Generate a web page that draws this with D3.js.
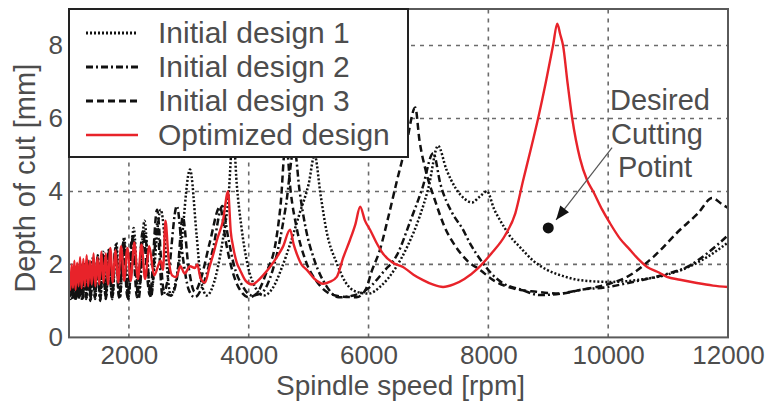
<!DOCTYPE html>
<html>
<head>
<meta charset="utf-8">
<script src="https://cdn.jsdelivr.net/npm/d3@7"></script>
<style>
    body { margin: 0; background: #fff; }
    text { font-family: "Liberation Sans", Arial, sans-serif; }
</style>
</head>
<body>
<div id="chart"></div>
<script>
// values: [spindle speed (rpm), depth of cut (mm)]
const design1 = [
    [1000,1.5],[1020,1.05],[1045,1.8],[1070,1.1],[1095,1.85],[1120,1.05],[1150,1.9],[1175,1.1],
    [1205,2.0],[1235,1.05],[1265,2.05],[1295,1.1],[1330,2.1],[1365,1.05],[1400,2.2],[1440,1.1],
    [1480,2.25],[1525,1.05],[1570,2.35],[1620,1.1],[1670,2.45],[1725,1.1],[1790,2.6],[1850,1.1],
    [1920,2.75],[1990,1.1],[2080,3.0],[2160,1.15],[2260,3.2],[2360,1.15],[2530,3.5],[2700,1.15],
    [2850,2.2],[3020,4.6],[3130,2.8],[3200,1.6],[3300,1.15],[3420,1.5],[3560,2.6],[3660,3.8],
    [3740,5.6],[3800,4.2],[3880,3.0],[3980,2.0],[4100,1.4],[4250,1.15],[4400,1.35],[4550,1.9],
    [4700,2.6],[4850,3.4],[5000,4.2],[5100,5.0],[5200,3.9],[5300,2.9],[5470,2.03],[5620,1.5],
    [5800,1.25],[6000,1.2],[6200,1.4],[6450,1.9],[6650,2.5],[6850,3.3],[7000,4.1],[7160,5.25],
    [7300,4.6],[7450,4.1],[7600,3.8],[7730,3.7],[7850,3.85],[7976,4.0],[8100,3.5],[8200,3.2],
    [8350,2.8],[8530,2.47],[8750,2.1],[8980,1.85],[9250,1.68],[9530,1.57],[10030,1.52],
    [10480,1.57],[10980,1.72],[11300,1.9],[11650,2.2],[12000,2.6]
];
const design2 = [
    [1000,1.3],[1030,1.75],[1055,1.05],[1080,1.8],[1105,1.0],[1135,1.85],[1160,1.05],[1190,1.9],
    [1220,1.0],[1250,1.95],[1285,1.05],[1320,2.0],[1355,1.0],[1395,2.1],[1435,1.05],[1475,2.2],
    [1520,1.0],[1565,2.25],[1615,1.05],[1665,2.35],[1720,1.05],[1780,2.5],[1845,1.05],[1915,2.65],
    [1990,1.05],[2070,2.8],[2160,1.05],[2260,2.9],[2370,1.1],[2470,3.1],[2560,1.15],[2650,1.6],
    [2800,3.6],[2900,2.2],[3000,1.3],[3100,1.1],[3250,1.5],[3400,2.4],[3560,3.6],[3650,2.8],
    [3750,2.0],[3900,1.4],[4050,1.15],[4200,1.2],[4350,1.6],[4500,2.5],[4620,3.6],[4760,5.2],
    [4850,4.0],[4950,3.0],[5100,2.1],[5300,1.4],[5500,1.1],[5750,1.15],[6000,1.35],[6250,1.8],
    [6475,2.26],[6700,3.2],[6900,4.1],[7080,5.05],[7200,4.2],[7400,3.4],[7560,3.0],[7720,2.5],
    [7895,2.07],[8050,1.75],[8230,1.5],[8560,1.3],[8860,1.16],[9200,1.2],[9530,1.3],[9980,1.38],
    [10500,1.55],[11000,1.75],[11320,1.93],[11650,2.3],[12000,2.8]
];
const design3 = [
    [1000,1.6],[1015,1.15],[1040,1.7],[1065,1.1],[1090,1.75],[1115,1.15],[1145,1.8],[1170,1.1],
    [1200,1.85],[1230,1.1],[1260,1.9],[1290,1.1],[1325,1.95],[1360,1.1],[1395,2.05],[1435,1.1],
    [1475,2.15],[1520,1.1],[1565,2.2],[1610,1.1],[1660,2.3],[1715,1.1],[1775,2.45],[1835,1.1],
    [1905,2.6],[1975,1.1],[2055,2.75],[2135,1.1],[2230,2.9],[2350,1.15],[2470,3.5],[2580,1.3],
    [2700,1.15],[2800,1.6],[2900,3.3],[2990,2.0],[3100,1.25],[3200,1.6],[3350,2.6],[3520,3.58],
    [3620,2.6],[3750,1.7],[3900,1.2],[4000,1.1],[4130,1.2],[4300,1.8],[4450,2.6],[4530,3.6],
    [4620,5.4],[4700,4.0],[4800,3.0],[4950,2.1],[5150,1.5],[5350,1.2],[5550,1.12],[5800,1.1],
    [5950,1.3],[6050,1.8],[6190,2.4],[6330,3.3],[6475,4.3],[6630,5.3],[6780,6.3],[6850,5.4],
    [6950,4.6],[7100,3.8],[7277,3.0],[7450,2.5],[7650,2.1],[7860,1.85],[8100,1.55],[8400,1.35],
    [8800,1.25],[9200,1.2],[9530,1.3],[9980,1.45],[10315,1.66],[10750,2.2],[11200,2.95],
    [11500,3.4],[11735,3.82],[11900,3.65],[12000,3.55]
];
const optimized = [
    [1000,1.75],[1020,1.3],[1045,2.0],[1065,1.35],[1090,2.1],[1110,1.3],[1135,2.05],[1160,1.4],
    [1185,2.2],[1210,1.35],[1240,2.15],[1265,1.4],[1295,2.25],[1320,1.4],[1350,2.1],[1380,1.45],
    [1410,2.3],[1440,1.4],[1475,2.2],[1505,1.45],[1540,2.35],[1575,1.5],[1615,2.3],[1650,1.45],
    [1690,2.45],[1730,1.5],[1775,2.4],[1820,1.5],[1870,2.5],[1920,1.55],[1975,2.45],[2030,1.55],
    [2090,2.6],[2150,1.6],[2210,2.55],[2270,1.6],[2340,2.5],[2420,1.7],[2530,2.1],[2570,1.85],
    [2610,3.2],[2660,2.2],[2720,1.7],[2790,1.65],[2860,1.95],[2930,1.75],[3020,1.95],[3100,1.9],
    [3140,2.0],[3200,1.6],[3270,1.5],[3340,1.9],[3420,2.35],[3470,2.67],[3570,3.2],[3655,4.0],
    [3700,2.9],[3740,2.48],[3800,2.05],[3855,1.85],[3950,1.55],[4055,1.45],[4150,1.55],[4250,1.72],
    [4355,1.93],[4470,2.2],[4570,2.48],[4690,2.95],[4750,2.55],[4800,2.3],[4880,2.0],[4970,1.85],
    [5100,1.6],[5240,1.47],[5350,1.52],[5470,1.66],[5580,2.2],[5690,2.67],[5780,3.1],[5860,3.58],
    [5940,3.2],[6025,2.95],[6130,2.6],[6240,2.3],[6400,2.05],[6575,1.93],[6750,1.72],[6910,1.57],
    [7070,1.45],[7244,1.38],[7420,1.45],[7600,1.6],[7830,1.9],[8050,2.3],[8280,2.8],[8450,3.4],
    [8580,4.3],[8700,5.1],[8830,6.0],[8960,7.0],[9080,8.0],[9150,8.6],[9200,8.3],[9247,8.0],
    [9320,7.0],[9400,6.0],[9530,4.9],[9650,4.3],[9750,4.0],[9900,3.5],[10030,3.13],[10200,2.7],
    [10365,2.4],[10500,2.15],[10650,1.93],[10820,1.8],[10980,1.66],[11200,1.58],[11480,1.49],
    [11750,1.42],[12000,1.38]
];
const seriesNames = ["Initial design 1", "Initial design 2", "Initial design 3", "Optimized design"];
const xTicks = [2000, 4000, 6000, 8000, 10000, 12000];
const yTicks = [0, 2, 4, 6, 8];
const desiredPoint = [9000, 3];
const arrowFrom = [10065, 5.2];
const arrowTo = [9130, 3.22];
const noteLines = ["Desired", "Cutting", "Potint"];

const width = 774, height = 403;
const margin = { top: 9, right: 46, bottom: 65.6, left: 69 };
const TEXT = "#4d4d4d";

const svg = d3.select("#chart")
    .append("svg")
    .attr("width", width)
    .attr("height", height);

const x = d3.scaleLinear()
    .domain([1000, 12000])
    .range([margin.left, width - margin.right]);
const y = d3.scaleLinear()
    .domain([0, 9])
    .range([height - margin.bottom, margin.top]);

/** grid */
const grid = svg.append("g").attr("class", "grid")
    .attr("stroke", "#6b6b6b")
    .attr("stroke-width", 1.6)
    .attr("stroke-dasharray", "4,5");
grid.selectAll(".gx")
    .data(xTicks.filter(d => d < 12000))
    .enter().append("line")
    .attr("x1", d => x(d)).attr("x2", d => x(d))
    .attr("y1", y(0)).attr("y2", y(9));
grid.selectAll(".gy")
    .data(yTicks.filter(d => d > 0))
    .enter().append("line")
    .attr("x1", x(1000)).attr("x2", x(12000))
    .attr("y1", d => y(d)).attr("y2", d => y(d));

/** curves */
const line = d3.line()
    .curve(d3.curveMonotoneX)
    .x(d => x(d[0]))
    .y(d => y(d[1]));

const styles = [
    { data: design1, color: "#111", dash: "2,2", w: 2.5 },
    { data: design2, color: "#111", dash: "7,3,2,3", w: 2.5 },
    { data: design3, color: "#111", dash: "7,4", w: 2.5 },
    { data: optimized, color: "#e8232a", dash: null, w: 2.4 }
];

svg.append("defs").append("clipPath").attr("id", "plotClip")
    .append("rect")
    .attr("x", x(1000)).attr("y", y(9))
    .attr("width", x(12000) - x(1000))
    .attr("height", y(0) - y(9));

const content = svg.append("g")
    .attr("class", "content")
    .attr("clip-path", "url(#plotClip)");
content.selectAll("path")
    .data(styles)
    .enter().append("path")
    .attr("fill", "none")
    .attr("stroke", d => d.color)
    .attr("stroke-width", d => d.w)
    .attr("stroke-dasharray", d => d.dash)
    .attr("stroke-linejoin", "round")
    .attr("d", d => line(d.data));

/** annotation */
svg.append("line")
    .attr("x1", x(arrowFrom[0])).attr("y1", y(arrowFrom[1]))
    .attr("x2", x(arrowTo[0])).attr("y2", y(arrowTo[1]))
    .attr("stroke", "#555")
    .attr("stroke-width", 1.2);
const ang = Math.atan2(y(arrowTo[1]) - y(arrowFrom[1]), x(arrowTo[0]) - x(arrowFrom[0])) * 180 / Math.PI;
svg.append("path")
    .attr("transform", `translate(${x(arrowTo[0])},${y(arrowTo[1])}) rotate(${ang})`)
    .attr("d", "M0,0 L-14,-5.5 L-14,5.5 Z")
    .attr("fill", "#111");
svg.append("circle")
    .attr("cx", x(desiredPoint[0]))
    .attr("cy", y(desiredPoint[1]))
    .attr("r", 5.5)
    .attr("fill", "#111");
svg.append("g")
    .selectAll("text")
    .data(noteLines)
    .enter().append("text")
    .attr("x", (d, i) => [610, 611, 618][i])
    .attr("y", (d, i) => 110 + i * 33.5)
    .attr("font-size", 29)
    .attr("fill", TEXT)
    .text(d => d);

/** axes frame */
svg.append("rect")
    .attr("x", x(1000)).attr("y", y(9))
    .attr("width", x(12000) - x(1000))
    .attr("height", y(0) - y(9))
    .attr("fill", "none")
    .attr("stroke", "#5a5a5a")
    .attr("stroke-width", 2);

const axisX = svg.append("g")
    .attr("transform", `translate(0,${y(0)})`)
    .call(d3.axisBottom(x).tickValues(xTicks).tickFormat(d3.format("d")).tickSize(0).tickPadding(8));
const axisY = svg.append("g")
    .attr("transform", `translate(${x(1000)},0)`)
    .call(d3.axisLeft(y).tickValues(yTicks).tickFormat(d3.format("d")).tickSize(0).tickPadding(6));
[axisX, axisY].forEach(a => {
    a.select(".domain").remove();
    a.selectAll("text")
        .attr("font-size", 26)
        .attr("font-family", "Liberation Sans, Arial, sans-serif")
        .attr("fill", TEXT);
});

svg.append("text")
    .attr("x", (x(1000) + x(12000)) / 2 + 2)
    .attr("y", 395)
    .attr("text-anchor", "middle")
    .attr("font-size", 28)
    .attr("fill", TEXT)
    .text("Spindle speed [rpm]");
svg.append("text")
    .attr("transform", `translate(35, ${(y(0) + y(9)) / 2 + 5}) rotate(-90)`)
    .attr("text-anchor", "middle")
    .attr("font-size", 29)
    .attr("fill", TEXT)
    .text("Depth of cut [mm]");

/** legend */
const legend = svg.append("g").attr("class", "legend");
legend.append("rect")
    .attr("x", x(1000)).attr("y", y(9))
    .attr("width", 339).attr("height", 148)
    .attr("fill", "#fff")
    .attr("stroke", "#222")
    .attr("stroke-width", 2);
const rows = legend.selectAll(".row")
    .data(styles)
    .enter().append("g")
    .attr("transform", (d, i) => `translate(0, ${43 + i * 34})`);
rows.append("line")
    .attr("x1", 86).attr("x2", 138)
    .attr("y1", -10).attr("y2", -10)
    .attr("stroke", d => d.color)
    .attr("stroke-width", d => d.w + 0.3)
    .attr("stroke-dasharray", d => d.dash);
rows.append("text")
    .attr("x", 158)
    .attr("font-size", 30)
    .attr("fill", TEXT)
    .text((d, i) => seriesNames[i]);
</script>
</body>
</html>
